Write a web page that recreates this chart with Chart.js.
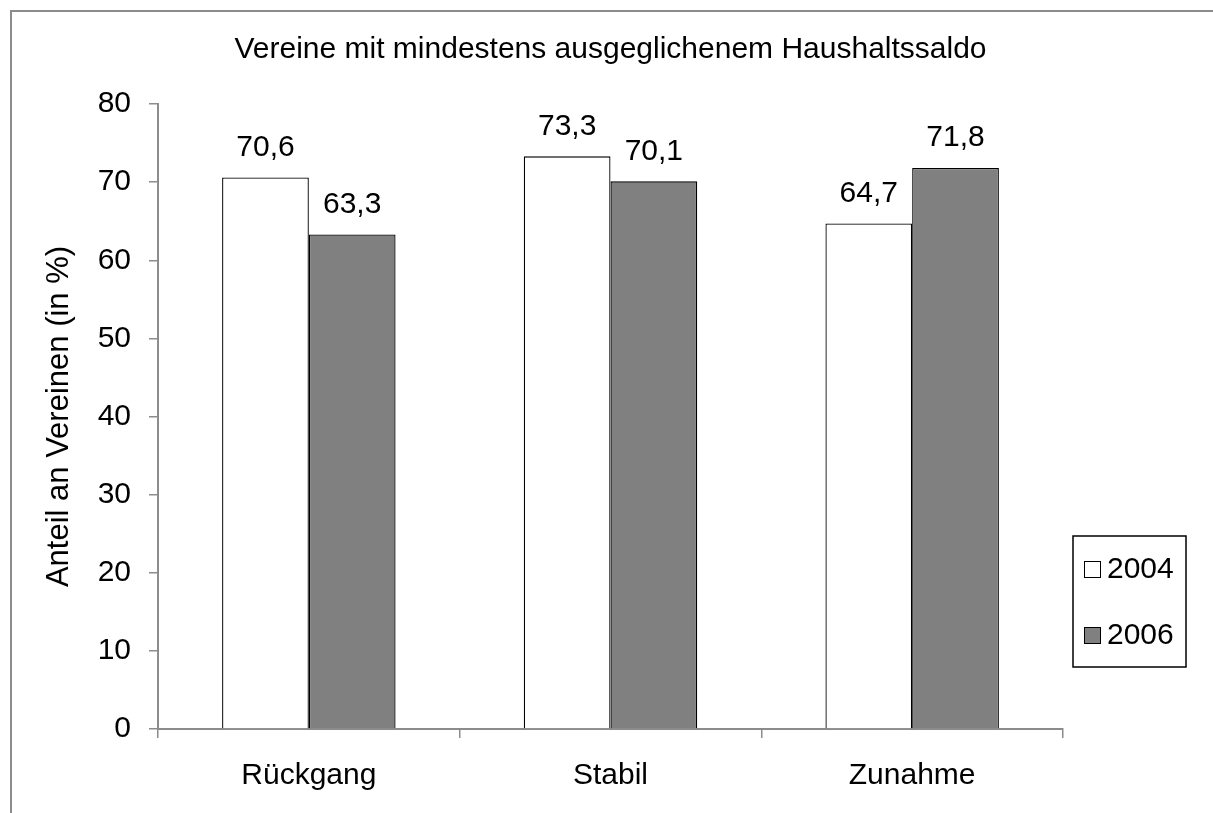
<!DOCTYPE html>
<html>
<head>
<meta charset="utf-8">
<script src="https://cdn.jsdelivr.net/npm/chart.js@4"></script>
<style>
  html, body { margin: 0; padding: 0; background: #fff; }
  #wrap { width: 1213px; height: 813px; position: relative; }
</style>
</head>
<body>
<div id="wrap"><canvas id="chart" width="1213" height="813"></canvas></div>
<script>
const categories = ["Rückgang", "Stabil", "Zunahme"];
const seriesNames = ["2004", "2006"];
const values2004 = [70.6, 73.3, 64.7];
const values2006 = [63.3, 70.1, 71.8];
const yTicks = [0, 10, 20, 30, 40, 50, 60, 70, 80];
const chartTitle = "Vereine mit mindestens ausgeglichenem Haushaltssaldo";

const FONT = "'Liberation Sans', Arial, sans-serif";

// grey frame round the whole picture
const framePlugin = {
  id: "frame",
  beforeDraw(chart) {
    const ctx = chart.ctx;
    ctx.save();
    ctx.strokeStyle = "#8c8c8c";
    ctx.lineWidth = 2;
    ctx.strokeRect(11, 11, 1300, 900);
    ctx.restore();
  }
};

// title centred over the plot area (not the whole canvas)
const plotTitle = {
  id: "plotTitle",
  afterDraw(chart) {
    const ctx = chart.ctx;
    const a = chart.chartArea;
    ctx.save();
    ctx.font = "30px " + FONT;
    ctx.fillStyle = "#000";
    ctx.textAlign = "center";
    ctx.textBaseline = "middle";
    ctx.fillText(chartTitle, (a.left + a.right) / 2, 50);
    ctx.restore();
  }
};

// value labels over each bar, German decimal comma
const valueLabels = {
  id: "valueLabels",
  afterDatasetsDraw(chart) {
    const ctx = chart.ctx;
    ctx.save();
    ctx.font = "30px " + FONT;
    ctx.fillStyle = "#000";
    ctx.textAlign = "center";
    ctx.textBaseline = "middle";
    chart.data.datasets.forEach((ds, i) => {
      chart.getDatasetMeta(i).data.forEach((bar, j) => {
        const txt = ds.data[j].toFixed(1).replace(".", ",");
        ctx.fillText(txt, bar.x, bar.y - 30);
      });
    });
    ctx.restore();
  }
};

// boxed legend to the right of the plot
const boxLegend = {
  id: "boxLegend",
  afterDraw(chart) {
    const ctx = chart.ctx;
    const x0 = 1073, y0 = 536, w = 113, h = 131;
    ctx.save();
    ctx.strokeStyle = "#000";
    ctx.lineWidth = 1.5;
    ctx.strokeRect(x0, y0, w, h);
    ctx.font = "30px " + FONT;
    ctx.textBaseline = "middle";
    chart.data.datasets.forEach((ds, i) => {
      const cy = y0 + 33 + i * 66;
      ctx.fillStyle = ds.backgroundColor;
      ctx.fillRect(1084, cy - 8, 17, 17);
      ctx.strokeStyle = "#000";
      ctx.lineWidth = 1;
      ctx.strokeRect(1084.5, cy - 7.5, 16, 16);
      ctx.fillStyle = "#000";
      ctx.fillText(ds.label, 1107, cy + 1);
    });
    ctx.restore();
  }
};

new Chart(document.getElementById("chart"), {
  type: "bar",
  data: {
    labels: categories,
    datasets: [
      {
        label: seriesNames[0],
        data: values2004,
        backgroundColor: "#ffffff",
        borderColor: "#000000",
        borderWidth: 1.3,
        categoryPercentage: 0.575,
        barPercentage: 1.0
      },
      {
        label: seriesNames[1],
        data: values2006,
        backgroundColor: "#808080",
        borderColor: "#000000",
        borderWidth: 1.3,
        categoryPercentage: 0.575,
        barPercentage: 1.0
      }
    ]
  },
  options: {
    responsive: false,
    animation: false,
    layout: { padding: { left: 12, right: 150, top: 104, bottom: 0 } },
    plugins: {
      legend: { display: false },
      tooltip: { enabled: false },
      title: { display: false }
    },
    scales: {
      x: {
        afterFit(scale) {
          scale.height = 813 - 729;
        },
        grid: { display: true, drawOnChartArea: false, drawTicks: true, tickLength: 9, color: "#8c8c8c", lineWidth: 1.5 },
        border: { color: "#8c8c8c", width: 2 },
        ticks: { color: "#000", padding: 20, font: { family: FONT, size: 30 } }
      },
      y: {
        min: 0,
        max: 80,
        afterBuildTicks(scale) {
          scale.ticks = yTicks.map((v) => ({ value: v }));
        },
        afterFit(scale) {
          scale.width = 158 - 12;
        },
        grid: { display: true, drawOnChartArea: false, drawTicks: true, tickLength: 9, color: "#8c8c8c", lineWidth: 1.5 },
        border: { color: "#8c8c8c", width: 2 },
        ticks: { color: "#000", padding: 18, font: { family: FONT, size: 30 } },
        title: {
          display: true,
          text: "Anteil an Vereinen (in %)",
          color: "#000",
          font: { family: FONT, size: 31 },
          padding: { top: 29, bottom: 0 }
        }
      }
    }
  },
  plugins: [framePlugin, plotTitle, valueLabels, boxLegend]
});
</script>
</body>
</html>
